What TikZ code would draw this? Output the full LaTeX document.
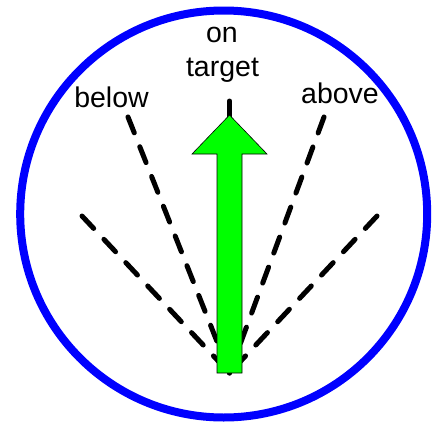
\documentclass[tikz,border=0pt]{standalone}
\usepackage{fontspec}
\setmainfont{Liberation Sans}
\begin{document}
\begin{tikzpicture}[x=1pt,y=-1pt,
  ray/.style={line width=5pt, line cap=round, dash pattern=on 17pt off 15pt},
  lbl/.style={font=\fontsize{28.5}{34}\selectfont, inner sep=0pt, anchor=base},
  ring/.style={draw=blue, line width=8pt},
  arrowshape/.style={fill=green, draw=black, line width=0.6pt}]
\useasboundingbox (0,0) rectangle (440,424);
\node[ring, circle, minimum size=407pt, inner sep=0pt] (ring) at (223.7,214) {};
\coordinate (O) at (229.5,373);
\coordinate (farleft) at (82,216);
\coordinate (belowend) at (128,117);
\coordinate (ontop) at (229.5,101);
\coordinate (aboveend) at (324,117);
\coordinate (farright) at (377,216);
\draw[ray] (farleft) -- (O);
\draw[ray] (belowend) -- (O);
\draw[ray] (ontop) -- (O);
\draw[ray] (aboveend) -- (O);
\draw[ray] (farright) -- (O);
\draw[arrowshape] (217,373) -- (217,154) -- (192,154) -- (229.5,115) -- (267,154) -- (242,154) -- (242,373) -- cycle;
\node[lbl] (on) at (222,42) {on};
\node[lbl] (target) at (222.5,76) {target};
\node[lbl] (below) at (111.5,107) {below};
\node[lbl] (above) at (340,103) {above};
\end{tikzpicture}
\end{document}
